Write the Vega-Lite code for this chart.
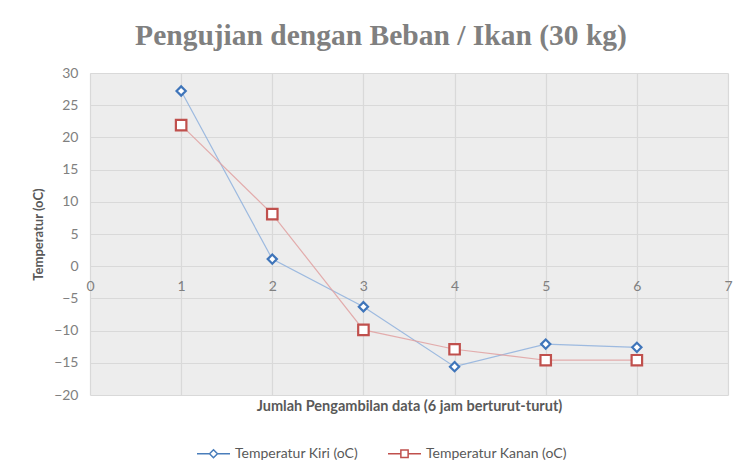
{
  "$schema": "https://vega.github.io/schema/vega-lite/v6.json",
  "width": 638,
  "height": 322,
  "autosize": {"type": "none"},
  "padding": {"left": 90, "top": 73, "right": 9, "bottom": 77},
  "background": "white",
  "title": {
    "text": "Pengujian dengan Beban / Ikan (30 kg)",
    "font": "Liberation Serif",
    "fontSize": 29.5,
    "fontWeight": "bold",
    "color": "#808080",
    "anchor": "middle",
    "dx": -28,
    "offset": 15
  },
  "config": {
    "view": {"fill": "#ededed", "stroke": null},
    "font": "Lato"
  },
  "data": {
    "values": [
      {"x": 1, "y": 27.2, "series": "Temperatur Kiri (oC)"},
      {"x": 2, "y": 1.1, "series": "Temperatur Kiri (oC)"},
      {"x": 3, "y": -6.3, "series": "Temperatur Kiri (oC)"},
      {"x": 4, "y": -15.6, "series": "Temperatur Kiri (oC)"},
      {"x": 5, "y": -12.1, "series": "Temperatur Kiri (oC)"},
      {"x": 6, "y": -12.6, "series": "Temperatur Kiri (oC)"},
      {"x": 1, "y": 21.9, "series": "Temperatur Kanan (oC)"},
      {"x": 2, "y": 8.1, "series": "Temperatur Kanan (oC)"},
      {"x": 3, "y": -9.9, "series": "Temperatur Kanan (oC)"},
      {"x": 4, "y": -12.9, "series": "Temperatur Kanan (oC)"},
      {"x": 5, "y": -14.6, "series": "Temperatur Kanan (oC)"},
      {"x": 6, "y": -14.6, "series": "Temperatur Kanan (oC)"}
    ]
  },
  "encoding": {
    "x": {
      "field": "x",
      "type": "quantitative",
      "scale": {"domain": [0, 7], "nice": false, "zero": false},
      "axis": {
        "values": [0, 1, 2, 3, 4, 5, 6, 7],
        "title": "Jumlah Pengambilan data (6 jam berturut-turut)",
        "titleFont": "Lato",
        "titleFontSize": 14.5,
        "titleFontWeight": "bold",
        "titleColor": "#595959",
        "titleY": 133,
        "titleBaseline": "top",
        "offset": -129,
        "domain": false,
        "ticks": false,
        "labelPadding": 13,
        "labelFontSize": 14,
        "labelColor": "#808080",
        "labelFlush": false,
        "grid": true,
        "gridColor": "#d9d9d9",
        "gridWidth": 1.2
      }
    },
    "y": {
      "field": "y",
      "type": "quantitative",
      "scale": {"domain": [-20, 30], "nice": false},
      "axis": {
        "values": [-20, -15, -10, -5, 0, 5, 10, 15, 20, 25, 30],
        "title": "Temperatur (oC)",
        "titleFont": "Lato",
        "titleFontSize": 13,
        "titleFontWeight": "bold",
        "titleColor": "#595959",
        "titlePadding": 8,
        "domain": false,
        "ticks": false,
        "labelPadding": 12,
        "labelFontSize": 14,
        "labelColor": "#808080",
        "grid": true,
        "gridColor": "#d9d9d9",
        "gridWidth": 1.2
      }
    }
  },
  "layer": [
    {
      "mark": {"type": "line", "strokeWidth": 1.2, "opacity": 0.85},
      "encoding": {
        "stroke": {
          "field": "series",
          "type": "nominal",
          "scale": {"domain": ["Temperatur Kiri (oC)", "Temperatur Kanan (oC)"], "range": ["#8eb0dd", "#e0a0a0"]},
          "legend": null
        }
      }
    },
    {
      "mark": {"type": "point", "filled": false, "fill": "white", "fillOpacity": 1, "strokeWidth": 2.2, "opacity": 1},
      "encoding": {
        "stroke": {
          "field": "series",
          "type": "nominal",
          "scale": {"domain": ["Temperatur Kiri (oC)", "Temperatur Kanan (oC)"], "range": ["#3f75ba", "#c0504d"]},
          "legend": null
        },
        "shape": {
          "field": "series",
          "type": "nominal",
          "scale": {"domain": ["Temperatur Kiri (oC)", "Temperatur Kanan (oC)"], "range": ["diamond", "square"]},
          "legend": null
        },
        "size": {
          "field": "series",
          "type": "nominal",
          "scale": {"domain": ["Temperatur Kiri (oC)", "Temperatur Kanan (oC)"], "range": [85, 110]},
          "legend": null
        }
      }
    },
    {
      "mark": {"type": "point", "filled": false, "opacity": 0, "strokeWidth": 1.5},
      "encoding": {
        "color": {
          "field": "series",
          "type": "nominal",
          "scale": {"domain": ["Temperatur Kiri (oC)", "Temperatur Kanan (oC)"], "range": ["#4a7ebb", "#c0504d"]},
          "legend": {
            "title": null,
            "orient": "none",
            "legendX": 106,
            "legendY": 363,
            "direction": "horizontal",
            "padding": 0,
            "symbolSize": 1089,
            "symbolOpacity": 1,
            "symbolStrokeWidth": 1.5,
            "labelFontSize": 14,
            "labelColor": "#595959",
            "labelOffset": 4,
            "columnPadding": 27
          }
        },
        "shape": {
          "field": "series",
          "type": "nominal",
          "scale": {"domain": ["Temperatur Kiri (oC)", "Temperatur Kanan (oC)"], "range": ["M-1,0L-0.26,0M0.26,0L1,0M0,-0.24L0.24,0L0,0.24L-0.24,0Z", "M-1,0L-0.25,0M0.25,0L1,0M-0.22,-0.22L0.22,-0.22L0.22,0.22L-0.22,0.22Z"]},
          "legend": {
            "title": null,
            "orient": "none",
            "legendX": 106,
            "legendY": 363,
            "direction": "horizontal",
            "padding": 0,
            "symbolSize": 1089,
            "symbolOpacity": 1,
            "symbolStrokeWidth": 1.5,
            "labelFontSize": 14,
            "labelColor": "#595959",
            "labelOffset": 4,
            "columnPadding": 27
          }
        }
      }
    }
  ],
  "resolve": {"scale": {"shape": "independent", "color": "independent", "size": "independent", "stroke": "independent"}}
}
